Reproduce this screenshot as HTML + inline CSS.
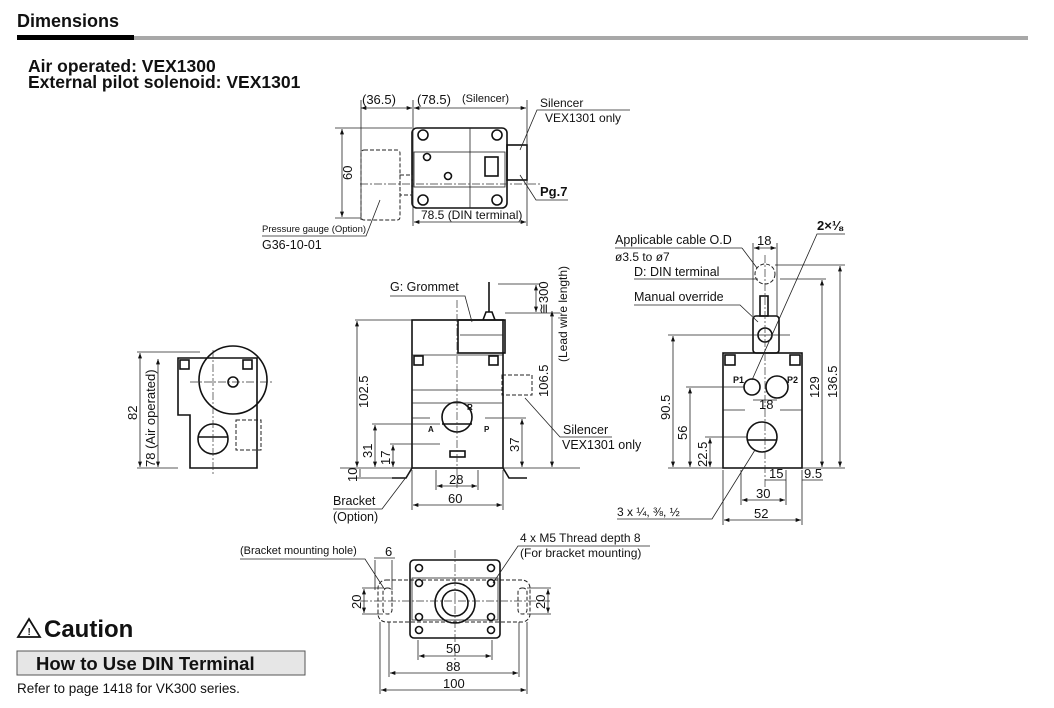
<!DOCTYPE html>
<html><head><meta charset="utf-8"><style>
body{margin:0;background:#fff;width:1054px;height:708px;overflow:hidden}
svg{display:block}
text{font-family:"Liberation Sans",sans-serif;fill:#111}
.l{stroke:#111;stroke-width:1.6;fill:none}
.t{stroke:#222;stroke-width:0.8;fill:none}
.d{stroke:#222;stroke-width:1;fill:none;stroke-dasharray:4 2}
.c{stroke:#333;stroke-width:0.7;fill:none;stroke-dasharray:8 2 2 2}
</style></head><body>
<svg width="1054" height="708" viewBox="0 0 1054 708">
<defs><marker id="a" viewBox="0 0 8 6" refX="8" refY="3" markerWidth="7" markerHeight="5" orient="auto-start-reverse"><path d="M0,0L8,3L0,6z" fill="#111"/></marker></defs>
<text x="17" y="27" font-size="18" font-weight="bold">Dimensions</text>
<rect x="17" y="35" width="117" height="5" fill="#000"/>
<rect x="134" y="36" width="894" height="4" fill="#a8a8a8"/>
<text x="28" y="72" font-size="17.5" font-weight="bold">Air operated: VEX1300</text>
<text x="28" y="88" font-size="17.5" font-weight="bold">External pilot solenoid: VEX1301</text>

<g font-size="13">
<rect class="l" x="412" y="128" width="95" height="80" rx="5"/>
<rect class="t" x="414" y="152" width="91" height="35"/>
<line class="t" x1="470" y1="128" x2="470" y2="208"/>
<rect class="l" x="485" y="157" width="13" height="19"/>
<rect class="l" x="507" y="145" width="20" height="35"/>
<rect class="d" x="361" y="150" width="39" height="70" rx="3"/>
<rect class="d" x="400" y="175" width="12" height="20"/>
<g class="l"><circle cx="423" cy="135" r="5"/><circle cx="497" cy="135" r="5"/><circle cx="423" cy="200" r="5"/><circle cx="497" cy="200" r="5"/><circle cx="427" cy="157" r="3.5"/><circle cx="448" cy="176" r="3.5"/></g>
<line class="c" x1="360" y1="184" x2="540" y2="184"/>
<line class="t" x1="361" y1="100" x2="361" y2="220"/><line class="t" x1="413" y1="100" x2="413" y2="226"/><line class="t" x1="527" y1="100" x2="527" y2="226"/>
<line class="t" x1="361" y1="108" x2="412" y2="108" marker-start="url(#a)" marker-end="url(#a)"/>
<line class="t" x1="414" y1="108" x2="526" y2="108" marker-start="url(#a)" marker-end="url(#a)"/>
<text x="362" y="104">(36.5)</text><text x="417" y="104">(78.5)</text><text x="462" y="102" font-size="11">(Silencer)</text>
<line class="t" x1="335" y1="128" x2="412" y2="128"/><line class="t" x1="335" y1="218" x2="361" y2="218"/>
<line class="t" x1="342" y1="129" x2="342" y2="217" marker-start="url(#a)" marker-end="url(#a)"/>
<text transform="translate(352,180) rotate(-90)">60</text>
<line class="t" x1="414" y1="222" x2="526" y2="222" marker-start="url(#a)" marker-end="url(#a)"/>
<text x="421" y="219" font-size="12">78.5 (DIN terminal)</text>
<text x="540" y="107" font-size="12">Silencer</text><text x="545" y="122" font-size="12">VEX1301 only</text>
<polyline class="t" points="520,150 537,110 630,110"/>
<text x="540" y="196" font-weight="bold">Pg.7</text>
<polyline class="t" points="520,175 536,200 568,200"/>
<text x="262" y="232" font-size="9.5">Pressure gauge (Option)</text>
<polyline class="t" points="262,236 366,236 380,200"/>
<text x="262" y="249" font-size="12.5">G36-10-01</text>
</g>

<g font-size="13">
<rect class="l" x="412" y="320" width="91" height="148"/>
<line class="t" x1="412" y1="355" x2="503" y2="355"/>
<line class="t" x1="412" y1="390" x2="503" y2="390"/>
<line class="t" x1="412" y1="403" x2="503" y2="403"/>
<rect class="l" x="458" y="320" width="47" height="33"/>
<line class="t" x1="460" y1="335" x2="503" y2="335"/>
<path class="l" d="M483,320 l3,-8 h6 l3,8"/>
<line class="l" x1="489" y1="312" x2="489" y2="282"/>
<rect class="l" x="414" y="356" width="9" height="9"/><rect class="l" x="489" y="356" width="9" height="9"/>
<circle class="l" cx="457" cy="417" r="15"/><line class="l" x1="442" y1="424" x2="472" y2="424"/>
<rect class="l" x="450" y="451" width="15" height="6"/>
<path class="t" d="M412,418 h18 M485,418 h18"/>
<text x="428" y="432" font-size="8" font-weight="bold">A</text><text x="484" y="432" font-size="8" font-weight="bold">P</text><text x="467" y="410" font-size="8" font-weight="bold">R</text>
<rect class="d" x="502" y="375" width="30" height="20"/>
<line class="c" x1="457" y1="300" x2="457" y2="488"/>
<path class="l" d="M392,478 h14 l6,-10 M503,468 l6,10 h18"/>
<line class="t" x1="355" y1="320" x2="412" y2="320"/><line class="t" x1="340" y1="468" x2="580" y2="468"/>
<line class="t" x1="357" y1="321" x2="357" y2="467" marker-start="url(#a)" marker-end="url(#a)"/>
<text transform="translate(368,408) rotate(-90)">102.5</text>
<line class="t" x1="372" y1="424" x2="440" y2="424"/><line class="t" x1="375" y1="425" x2="375" y2="467" marker-start="url(#a)" marker-end="url(#a)"/>
<text transform="translate(372,458) rotate(-90)">31</text>
<line class="t" x1="390" y1="444" x2="440" y2="444"/><line class="t" x1="393" y1="445" x2="393" y2="467" marker-start="url(#a)" marker-end="url(#a)"/>
<text transform="translate(390,465) rotate(-90)">17</text>
<line class="t" x1="503" y1="418" x2="526" y2="418"/><line class="t" x1="522" y1="419" x2="522" y2="467" marker-start="url(#a)" marker-end="url(#a)"/>
<text transform="translate(519,452) rotate(-90)">37</text>
<line class="t" x1="356" y1="478" x2="392" y2="478"/><line class="t" x1="360" y1="469" x2="360" y2="477"/>
<text transform="translate(357,482) rotate(-90)">10</text>
<line class="t" x1="498" y1="284" x2="540" y2="284"/><line class="t" x1="505" y1="313" x2="560" y2="313"/>
<line class="t" x1="536" y1="285" x2="536" y2="312" marker-start="url(#a)" marker-end="url(#a)"/>
<text transform="translate(548,314) rotate(-90)">≅300</text>
<line class="t" x1="552" y1="311" x2="552" y2="467" marker-start="url(#a)" marker-end="url(#a)"/>
<text transform="translate(548,397) rotate(-90)">106.5</text>
<text transform="translate(567,362) rotate(-90)" font-size="12">(Lead wire length)</text>
<text x="390" y="291" font-size="12.5">G: Grommet</text>
<polyline class="t" points="390,296 465,296 472,322"/>
<line class="t" x1="436" y1="470" x2="436" y2="490"/><line class="t" x1="478" y1="470" x2="478" y2="490"/>
<line class="t" x1="437" y1="486" x2="477" y2="486" marker-start="url(#a)" marker-end="url(#a)"/>
<text x="449" y="484">28</text>
<line class="t" x1="412" y1="470" x2="412" y2="510"/><line class="t" x1="503" y1="470" x2="503" y2="510"/>
<line class="t" x1="413" y1="505" x2="502" y2="505" marker-start="url(#a)" marker-end="url(#a)"/>
<text x="448" y="503">60</text>
<text x="333" y="505" font-size="12.5">Bracket</text><text x="333" y="521" font-size="12.5">(Option)</text>
<polyline class="t" points="333,509 382,509 410,472"/>
<text x="563" y="434" font-size="12.5">Silencer</text><text x="562" y="449" font-size="12.5">VEX1301 only</text>
<polyline class="t" points="525,398 560,437 612,437"/>
</g>

<g font-size="13">
<rect class="l" x="723" y="353" width="79" height="115"/>
<rect class="l" x="753" y="316" width="26" height="37" rx="3"/>
<rect class="l" x="760" y="296" width="8" height="20"/>
<circle class="d" cx="765" cy="274" r="10"/>
<circle class="l" cx="765" cy="335" r="7"/>
<rect class="l" x="725" y="355" width="10" height="10"/><rect class="l" x="790" y="355" width="10" height="10"/>
<circle class="l" cx="752" cy="387" r="8"/><circle class="l" cx="777" cy="387" r="11"/>
<circle class="l" cx="762" cy="437" r="15"/><line class="l" x1="747" y1="440" x2="777" y2="440"/>
<path class="t" d="M723,410 h22 M780,410 h22"/>
<text x="733" y="383" font-size="9" font-weight="bold">P1</text><text x="787" y="383" font-size="9" font-weight="bold">P2</text>
<line class="c" x1="765" y1="255" x2="765" y2="490"/>
<line class="t" x1="753" y1="243" x2="753" y2="316"/><line class="t" x1="777" y1="243" x2="777" y2="316"/>
<line class="t" x1="754" y1="248" x2="776" y2="248" marker-start="url(#a)" marker-end="url(#a)"/>
<text x="757" y="245">18</text>
<line class="t" x1="668" y1="468" x2="845" y2="468"/>
<line class="t" x1="668" y1="335" x2="790" y2="335"/><line class="t" x1="673" y1="336" x2="673" y2="467" marker-start="url(#a)" marker-end="url(#a)"/>
<text transform="translate(670,420) rotate(-90)">90.5</text>
<line class="t" x1="686" y1="387" x2="745" y2="387"/><line class="t" x1="690" y1="388" x2="690" y2="467" marker-start="url(#a)" marker-end="url(#a)"/>
<text transform="translate(687,440) rotate(-90)">56</text>
<line class="t" x1="705" y1="437" x2="747" y2="437"/><line class="t" x1="710" y1="438" x2="710" y2="467" marker-start="url(#a)" marker-end="url(#a)"/>
<text transform="translate(707,467) rotate(-90)">22.5</text>
<line class="t" x1="780" y1="279" x2="826" y2="279"/><line class="t" x1="822" y1="280" x2="822" y2="467" marker-start="url(#a)" marker-end="url(#a)"/>
<text transform="translate(819,398) rotate(-90)">129</text>
<line class="t" x1="775" y1="265" x2="845" y2="265"/><line class="t" x1="840" y1="266" x2="840" y2="467" marker-start="url(#a)" marker-end="url(#a)"/>
<text transform="translate(837,398) rotate(-90)">136.5</text>
<line class="t" x1="753" y1="400" x2="777" y2="400"/><text x="759" y="409">18</text>
<line class="t" x1="765" y1="480" x2="786" y2="480"/><line class="t" x1="786" y1="470" x2="786" y2="505"/>
<text x="769" y="478">15</text>
<line class="t" x1="802" y1="480" x2="823" y2="480"/><text x="804" y="478">9.5</text>
<line class="t" x1="741" y1="470" x2="741" y2="505"/>
<line class="t" x1="742" y1="500" x2="785" y2="500" marker-start="url(#a)" marker-end="url(#a)"/><text x="756" y="498">30</text>
<line class="t" x1="723" y1="470" x2="723" y2="525"/><line class="t" x1="802" y1="470" x2="802" y2="525"/>
<line class="t" x1="724" y1="520" x2="801" y2="520" marker-start="url(#a)" marker-end="url(#a)"/><text x="754" y="518">52</text>
<text x="615" y="244" font-size="12.5">Applicable cable O.D</text>
<line class="t" x1="615" y1="248" x2="742" y2="248"/><line class="t" x1="742" y1="248" x2="757" y2="268"/>
<text x="615" y="261" font-size="12">ø3.5 to ø7</text>
<text x="634" y="276" font-size="12.5">D: DIN terminal</text>
<line class="t" x1="634" y1="279" x2="758" y2="279"/>
<text x="634" y="301" font-size="12.5">Manual override</text>
<polyline class="t" points="634,305 740,305 758,322"/>
<text x="817" y="230" font-weight="bold">2×⅛</text>
<polyline class="t" points="845,234 817,234 752,380"/>
<text x="617" y="516" font-size="12">3 x ¼, ⅜, ½</text>
<polyline class="t" points="617,519 712,519 755,450"/>
</g>

<g font-size="13">
<path class="l" d="M178,358 H257 V468 H190 V415 H178 Z"/>
<circle class="l" cx="233" cy="380" r="34"/>
<circle class="l" cx="233" cy="382" r="5"/>
<rect class="l" x="180" y="360" width="9" height="9"/><rect class="l" x="243" y="360" width="9" height="9"/>
<circle class="l" cx="213" cy="439" r="15"/><line class="l" x1="198" y1="437" x2="228" y2="437"/>
<rect class="d" x="236" y="420" width="25" height="30"/>
<line class="c" x1="213" y1="350" x2="213" y2="475"/><line class="c" x1="190" y1="382" x2="272" y2="382"/>
<line class="t" x1="137" y1="352" x2="200" y2="352"/><line class="t" x1="137" y1="468" x2="178" y2="468"/>
<line class="t" x1="140" y1="353" x2="140" y2="467" marker-start="url(#a)" marker-end="url(#a)"/>
<text transform="translate(137,420) rotate(-90)">82</text>
<line class="t" x1="158" y1="359" x2="158" y2="467" marker-start="url(#a)" marker-end="url(#a)"/>
<text transform="translate(155,467) rotate(-90)">78 (Air operated)</text>
</g>

<g font-size="13">
<rect class="d" x="378" y="580" width="152" height="42" rx="8"/>
<rect class="l" x="410" y="560" width="90" height="78" rx="4"/>
<rect class="t" x="412" y="578" width="86" height="42"/>
<circle class="l" cx="455" cy="603" r="20"/><circle class="l" cx="455" cy="603" r="13"/>
<g class="l"><circle cx="419" cy="568" r="3.5"/><circle cx="491" cy="568" r="3.5"/><circle cx="419" cy="583" r="3.5"/><circle cx="491" cy="583" r="3.5"/><circle cx="419" cy="617" r="3.5"/><circle cx="491" cy="617" r="3.5"/><circle cx="419" cy="630" r="3.5"/><circle cx="491" cy="630" r="3.5"/></g>
<rect class="d" x="383" y="588" width="9" height="26" rx="4"/><rect class="d" x="518" y="588" width="9" height="26" rx="4"/>
<line class="c" x1="455" y1="550" x2="455" y2="660"/><line class="c" x1="360" y1="601" x2="550" y2="601"/>
<line class="t" x1="362" y1="588" x2="383" y2="588"/><line class="t" x1="362" y1="614" x2="383" y2="614"/>
<line class="t" x1="364" y1="589" x2="364" y2="613" marker-start="url(#a)" marker-end="url(#a)"/>
<text transform="translate(361,609) rotate(-90)">20</text>
<line class="t" x1="527" y1="588" x2="551" y2="588"/><line class="t" x1="527" y1="614" x2="551" y2="614"/>
<line class="t" x1="548" y1="589" x2="548" y2="613" marker-start="url(#a)" marker-end="url(#a)"/>
<text transform="translate(545,609) rotate(-90)">20</text>
<line class="t" x1="375" y1="560" x2="375" y2="590"/><line class="t" x1="392" y1="560" x2="392" y2="590"/>
<line class="t" x1="374" y1="558" x2="395" y2="558"/><text x="385" y="556">6</text>
<text x="240" y="554" font-size="11">(Bracket mounting hole)</text>
<polyline class="t" points="240,559 365,559 385,590"/>
<text x="520" y="542" font-size="12">4 x M5 Thread depth 8</text>
<text x="520" y="557" font-size="12">(For bracket mounting)</text>
<polyline class="t" points="650,546 518,546 493,583"/>
<line class="t" x1="418" y1="640" x2="418" y2="660"/><line class="t" x1="492" y1="640" x2="492" y2="660"/>
<line class="t" x1="419" y1="656" x2="491" y2="656" marker-start="url(#a)" marker-end="url(#a)"/><text x="446" y="653">50</text>
<line class="t" x1="389" y1="622" x2="389" y2="677"/><line class="t" x1="519" y1="622" x2="519" y2="677"/>
<line class="t" x1="390" y1="673" x2="518" y2="673" marker-start="url(#a)" marker-end="url(#a)"/><text x="446" y="671">88</text>
<line class="t" x1="380" y1="622" x2="380" y2="694"/><line class="t" x1="527" y1="622" x2="527" y2="694"/>
<line class="t" x1="381" y1="690" x2="526" y2="690" marker-start="url(#a)" marker-end="url(#a)"/><text x="443" y="688">100</text>
</g>

<path d="M29,619 L40,637 L18,637 Z" fill="none" stroke="#111" stroke-width="1.8"/>
<text x="27.5" y="635" font-size="10" font-weight="bold">!</text>
<text x="44" y="637" font-size="24" font-weight="bold">Caution</text>
<rect x="17" y="651" width="288" height="24" fill="#e6e6e6" stroke="#555" stroke-width="1"/>
<text x="36" y="670" font-size="18.5" font-weight="bold">How to Use DIN Terminal</text>
<text x="17" y="693" font-size="13.5">Refer to page 1418 for VK300 series.</text>
</svg>
</body></html>
